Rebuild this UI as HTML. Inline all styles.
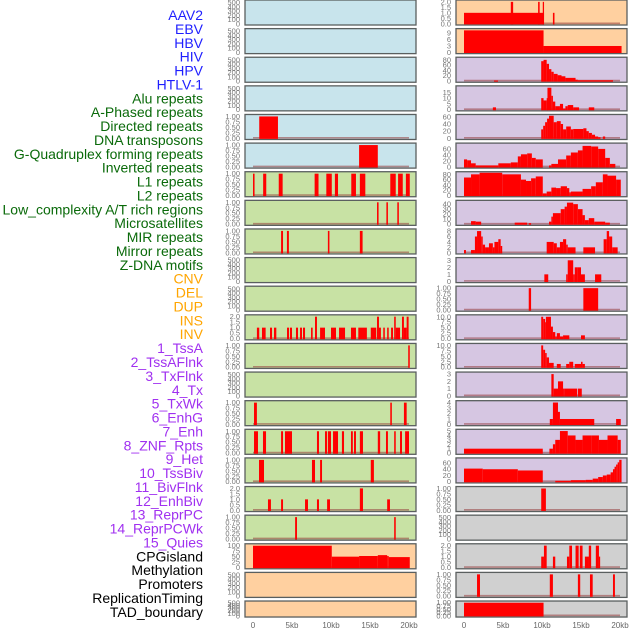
<!DOCTYPE html>
<html><head><meta charset="utf-8"><style>
html,body{margin:0;padding:0;background:#fff;width:630px;height:630px;overflow:hidden}
svg{display:block;font-family:"Liberation Sans",sans-serif}
</style></head><body>
<svg id="chart" width="630" height="630" viewBox="0 0 630 630" xmlns="http://www.w3.org/2000/svg"></svg>
<script>
const trackLabels = ["AAV2","EBV","HBV","HIV","HPV","HTLV-1","Alu repeats","A-Phased repeats","Directed repeats","DNA transposons","G-Quadruplex forming repeats","Inverted repeats","L1 repeats","L2 repeats","Low_complexity A/T rich regions","Microsatellites","MIR repeats","Mirror repeats","Z-DNA motifs","CNV","DEL","DUP","INS","INV","1_TssA","2_TssAFlnk","3_TxFlnk","4_Tx","5_TxWk","6_EnhG","7_Enh","8_ZNF_Rpts","9_Het","10_TssBiv","11_BivFlnk","12_EnhBiv","13_ReprPC","14_ReprPCWk","15_Quies","CPGisland","Methylation","Promoters","ReplicationTiming","TAD_boundary"];
const labelGroups = [6,13,5,15,5];
const groupColors = ["#1f1fff","#0a6a0a","#ffa500","#a030f0","#000000"];
const xTicks = [0,5,10,15,20];
const xTickLabels = ["0","5kb","10kb","15kb","20kb"];

// left column segments [startKb, endKb, value]
const L00=[],L01=[],L02=[],L03=[];
const L04=[[0.8,3.2,1]];
const L05=[[13.6,16.0,1]];
const L06=[[0,0.2,1],[1.3,1.7,1],[3.3,3.8,1],[7.9,8.4,1],[9.4,10.1,1],[10.5,10.9,1],[12.6,13.2,1],[13.7,14.4,1],[17.6,18.3,1],[18.6,19.2,1],[19.6,20.1,1]];
const L07=[[15.9,16.1,1],[17.1,17.3,1],[18.5,18.7,1]];
const L08=[[3.6,3.85,1],[4.35,4.6,1],[9.6,9.8,1],[13.7,14.05,1]];
const L09=[],L10=[];
const L11=[[0.5,0.8,1],[1.15,1.62,1],[2.18,2.44,1],[2.69,2.99,1],[4.36,4.62,1],[4.74,5.0,1],[5.51,5.77,1],[6.03,6.28,1],[6.41,6.67,1],[7.44,7.65,1],[7.95,8.2,2],[8.6,9.23,1],[10.0,10.64,1],[11.03,11.8,1],[12.56,13.2,1],[13.5,14.6,1],[15.1,15.8,1],[15.9,16.15,2],[16.15,16.4,1],[16.7,16.9,1],[17.2,17.4,1],[17.7,17.95,1],[18.1,18.3,2],[18.3,18.85,1],[19.1,19.35,2],[19.35,19.7,1],[19.7,19.95,2]];
const L12=[[19.9,20.1,1]];
const L13=[];
const L14=[[0.13,0.5,1],[17.6,17.8,1],[19.35,19.7,1]];
const L15=[[0.13,0.64,1],[1.28,1.67,1],[3.6,3.85,1],[4.1,5.0,1],[8.2,8.46,1],[9.23,9.49,1],[9.6,10.0,1],[10.26,10.9,1],[11.4,11.67,1],[12.56,12.8,1],[12.95,13.2,1],[13.7,14.1,1],[16.0,16.3,1],[17.05,17.3,1],[18.1,18.3,1],[18.85,19.1,1],[19.5,20.0,1]];
const L16=[[0.77,1.41,1],[7.56,7.95,1],[8.6,8.85,1],[15.1,15.5,1]];
const L17=[[1.92,2.3,1],[3.6,3.85,1],[6.67,7.05,1],[8.2,8.46,1],[9.5,9.87,1],[13.7,14.1,2],[17.2,17.56,1]];
const L18=[[5.4,5.64,1],[18.1,18.3,1]];
const L19=[[0,10.1,100],[10.1,13.6,50],[13.6,16.0,53],[16.0,17.2,57],[17.2,17.4,53],[17.4,20.1,48]];
const L20=[],L21=[];

// right column segments
const R00=[[0,10.26,1],[6.0,6.3,2],[9.5,9.7,2],[10.1,10.26,2],[11.4,11.6,1]];
const R01=[[0,10.2,10.3],[10.2,20.2,3]];
const R02=[[3.85,4.36,2],[9.9,10.2,75],[10.2,10.6,80],[10.6,10.9,65],[10.9,11.2,45],[11.2,11.5,35],[11.5,12,27],[12,12.5,22],[12.5,13,18],[13,14.3,12],[14.3,14.6,5],[14.6,19.1,3]];
const R03=[[3.7,4.1,2],[9.9,10.2,10],[10.2,10.6,8],[10.6,10.7,10],[10.7,11.2,19],[11.2,11.4,12],[11.4,11.7,7],[11.7,12.3,3],[12.3,12.7,5],[12.7,13.0,1],[13.0,13.3,3],[13.3,14.0,4],[14.0,14.75,2],[16.0,16.7,2]];
const R04=[[9.9,10.15,25],[10.15,10.4,35],[10.4,10.65,45],[10.65,10.9,55],[10.9,11.5,63],[11.5,11.9,45],[11.9,12.4,48],[12.4,12.7,40],[12.7,13.1,25],[13.1,13.7,33],[13.7,14.0,25],[14.0,15.3,26],[15.3,15.7,28],[15.7,16.0,20],[16.0,16.4,15],[16.4,16.8,10],[16.8,17.2,5],[17.2,17.5,3],[17.8,18.1,5]];
const R05=[[0,0.4,25],[0.4,0.9,22],[0.9,1.5,12],[1.5,4.4,5],[4.4,6.0,12],[6.0,6.9,15],[6.9,7.3,35],[7.3,8.1,42],[8.1,8.7,45],[8.7,9.2,30],[9.2,10.1,25],[10.9,11.2,5],[11.2,12.05,10],[12.05,13.1,25],[13.1,13.7,38],[13.7,14.6,48],[14.6,15.2,55],[15.2,16.3,70],[16.3,17.2,68],[17.2,18.1,60],[18.1,18.7,30],[18.7,19.4,10]];
const R06=[[0,0.9,68],[0.9,2.0,80],[2.0,4.9,86],[4.9,7.3,80],[7.3,7.95,60],[7.95,8.6,55],[8.6,9.2,65],[9.2,10.1,72],[10.1,10.6,8],[10.6,11.2,15],[11.2,11.8,30],[11.8,12.4,28],[12.4,13.2,35],[13.2,13.5,28],[13.5,13.7,12],[13.7,15.2,15],[15.2,16.3,25],[16.3,16.9,35],[16.9,17.8,50],[17.8,18.4,80],[18.4,19.5,75],[19.5,20.1,60]];
const R07=[[0.9,1.5,6],[1.5,2.2,5],[6.5,8.1,3],[8.3,8.6,2],[10.9,11.2,5],[11.2,11.4,15],[11.4,12.4,22],[12.4,12.9,30],[12.9,13.2,35],[13.2,14.0,43],[14.0,14.6,40],[14.6,15.2,30],[15.2,15.5,18],[15.5,16.0,8],[16.0,16.7,12],[16.7,18.1,5],[18.1,18.7,3]];
const R08=[[0,0.25,1],[0.9,1.4,1],[1.4,1.67,6],[1.67,2.2,8],[2.2,2.4,6],[2.4,2.7,3],[2.7,3.2,2],[3.2,3.7,3.5],[3.7,3.9,2],[3.9,4.4,4],[4.4,4.7,5],[4.7,4.9,2.5],[10.6,11.5,4],[11.5,11.9,3.5],[11.9,12.3,2],[12.3,12.7,4],[12.7,13.1,5],[13.1,13.3,3],[13.3,14.3,2],[15.3,16.8,2],[17.9,18.3,5],[18.3,18.6,8],[18.6,19.0,6],[19.0,19.7,2]];
const R09=[[10.3,10.8,1],[13.1,13.3,1],[13.3,14.0,3],[14.0,14.2,1],[14.2,14.6,2],[14.6,15.0,2],[15.0,15.5,1],[16.8,17.6,1]];
const R10=[[8.3,8.6,1],[15.3,17.2,1]];
const R11=[[9.9,10.15,10],[10.15,10.4,9],[10.4,10.5,7.5],[10.5,11.15,10],[11.15,11.4,5.5],[11.4,11.7,3],[11.7,11.9,1],[11.9,12.3,2.5],[12.3,12.7,1],[12.7,13.5,1.5],[15.0,15.5,1.5]];
const R12=[[9.9,10.15,10],[10.15,10.4,8],[10.4,10.6,6.5],[10.6,10.9,4.5],[10.9,11.5,2],[11.9,12.4,1.5],[13.1,13.5,1.5],[13.5,14.0,2.5],[14.2,15.0,1.5],[15.0,15.2,2.5],[15.2,15.5,1.5]];
const R13=[[11.2,11.5,3],[11.5,12.05,1],[12.05,12.7,2],[12.7,12.9,1],[12.9,14.5,1],[14.6,15.1,1]];
const R14=[[11.0,11.4,1],[11.4,12.05,4],[12.05,12.3,2.3],[12.3,16.7,1],[19.5,20.1,1]];
const R15=[[0,10.1,1],[10.95,11.4,1],[11.4,11.7,2],[11.7,12.3,3],[12.3,13.3,5],[13.3,14.3,4],[14.3,15.2,3],[15.2,16.3,4],[16.3,17.3,4],[17.3,18.4,3],[18.4,19.7,4],[19.7,20.1,3]];
const R16=[[0,2.4,42],[2.4,6.9,40],[6.9,10.1,36],[11.7,13.7,3],[13.7,15.6,5],[15.6,16.5,6],[16.5,17.2,10],[17.2,17.8,15],[17.8,18.3,20],[18.3,18.8,23],[18.8,19.1,30],[19.1,19.3,40],[19.3,19.5,48],[19.5,19.7,55],[19.7,19.9,62],[19.9,20.2,70]];
const R17=[[9.9,10.5,1]];
const R18=[];
const R19=[[9.9,10.25,1],[10.25,10.6,2],[11.4,11.7,1],[13.2,13.5,1],[13.5,13.85,2],[14.3,14.7,2],[14.85,15.2,2],[15.5,15.9,1],[15.9,16.0,1],[16.0,16.3,2],[16.9,17.3,2],[17.3,17.4,1]];
const R20=[[1.67,2.05,1],[11.0,11.4,1],[14.6,14.9,1],[16.15,16.5,1],[19.1,19.35,1]];
const R21=[[0,10.2,1]];

const leftData=[L00,L01,L02,L03,L04,L05,L06,L07,L08,L09,L10,L11,L12,L13,L14,L15,L16,L17,L18,L19,L20,L21];
const rightData=[R00,R01,R02,R03,R04,R05,R06,R07,R08,R09,R10,R11,R12,R13,R14,R15,R16,R17,R18,R19,R20,R21];

const T500=["0","100","200","300","400","500"];
const T01=["0.00","0.25","0.50","0.75","1.00"];
const T02=["0.0","0.5","1.0","1.5","2.0"];
const leftTicks=[T500,T500,T500,T500,T01,T01,T01,T01,T01,T500,T500,T02,T01,T500,T01,T01,T01,T02,T01,["0","25","50","75","100"],T500,T500];
const leftMax=[530,530,530,530,1.03,1.03,1.03,1.03,1.03,530,530,2.05,1.03,530,1.03,1.03,1.03,2.05,1.03,103,530,530];
const rightTicks=[T02,["0","3","6","9"],["0","20","40","60","80"],["0","5","10","15"],["0","20","40","60"],["0","20","40","60"],["0","20","40","60","80"],["0","10","20","30","40"],["0","2","4","6","8"],["0","1","2","3"],T01,["0.0","2.5","5.0","7.5","10.0"],["0.0","2.5","5.0","7.5","10.0"],["0","1","2","3"],["0","1","2","3","4"],["0","1","2","3","4","5"],["0","20","40","60"],T01,T500,T02,T01,T01];
const rightMax=[2.05,10.5,85,19.5,63,75,85,45,8.3,3.2,1.03,10.3,10.3,3.1,4.1,5.1,72,1.03,530,2.05,1.03,1.03];
const leftBg=["#c8e4ec","#c8e4ec","#c8e4ec","#c8e4ec","#c8e4ec","#c8e4ec","#c8e2a4","#c8e2a4","#c8e2a4","#c8e2a4","#c8e2a4","#c8e2a4","#c8e2a4","#c8e2a4","#c8e2a4","#c8e2a4","#c8e2a4","#c8e2a4","#c8e2a4","#ffd0a0","#ffd0a0","#ffd0a0"];
const rightBg=["#ffd0a0","#ffd0a0","#d6c6e2","#d6c6e2","#d6c6e2","#d6c6e2","#d6c6e2","#d6c6e2","#d6c6e2","#d6c6e2","#d6c6e2","#d6c6e2","#d6c6e2","#d6c6e2","#d6c6e2","#d6c6e2","#d6c6e2","#d0d0d0","#d0d0d0","#d0d0d0","#d0d0d0","#d0d0d0"];

const NS="http://www.w3.org/2000/svg";
const svg=document.getElementById('chart');
function mk(tag,attrs,parent){const e=document.createElementNS(NS,tag);for(const k in attrs)e.setAttribute(k,attrs[k]);(parent||svg).appendChild(e);return e;}

// labels
let gi=0,cnt=0;
trackLabels.forEach((t,i)=>{
  while(cnt>=labelGroups[gi]){cnt=0;gi++;}
  cnt++;
  const tx=mk('text',{x:203,y:20+i*13.88,'text-anchor':'end','font-size':14,fill:groupColors[gi]});
  tx.textContent=t;
  
  
});

const colX=[245,456], panelW=171, pitch=28.62, kbPx=7.8;
function xScale(col,kb){return colX[col]+8+kb*kbPx;}
function panelGeom(i){const top=i*pitch;const h=(i===21)?16:25;return {top,h};}

function drawPanel(col,i,data,ticks,ymax,bg){
  const {top,h}=panelGeom(i);
  const g=mk('g',{});
  
  
  const bottom=top+h-1.2, usable=h-2.5;
  const yScale=v=>bottom-v/ymax*usable;
  mk('rect',{x:colX[col],y:top,width:panelW,height:h,fill:bg,stroke:'#5a5f5f','stroke-width':1.3},g);
  ticks.forEach((t,k)=>{
    const v=parseFloat(t);
    const tt=mk('text',{x:colX[col]-5,y:yScale(v)+2.5,'text-anchor':'end','font-size':7.5,fill:'#777'},g);
    tt.textContent=t;
    
    
  });
  if(data.length){
    mk('line',{x1:xScale(col,0),x2:xScale(col,20),y1:bottom-0.5,y2:bottom-0.5,stroke:'rgba(150,60,60,0.55)','stroke-width':1.6},g);
  }
  data.forEach(s=>{
    const x0=xScale(col,s[0]),x1=xScale(col,s[1]);
    const r=mk('rect',{x:x0,y:yScale(s[2]),width:Math.max(1.2,x1-x0),height:bottom-yScale(s[2])+0.6,fill:'#ff0000'},g);
    
    
  });
}
for(let i=0;i<22;i++){
  drawPanel(0,i,leftData[i],leftTicks[i],leftMax[i],leftBg[i]);
  drawPanel(1,i,rightData[i],rightTicks[i],rightMax[i],rightBg[i]);
}
// x axes
[0,1].forEach(col=>{
  xTicks.forEach((v,k)=>{
    const t=mk('text',{x:xScale(col,v),y:628,'text-anchor':'middle','font-size':8,fill:'#666'});
    t.textContent=xTickLabels[k];
    
    
  });
});
</script>
</body></html>
